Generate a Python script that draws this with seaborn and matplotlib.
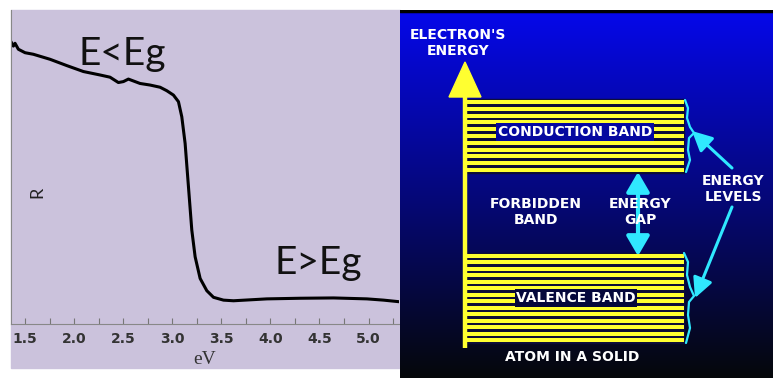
import numpy as np
import pandas as pd
import matplotlib
matplotlib.use("Agg")
import matplotlib.pyplot as plt
from matplotlib.patches import Rectangle, Polygon, FancyArrowPatch
import seaborn as sns

# ---------------- data (left panel: reflectance vs photon energy) ----------------
energy_ev = [1.357, 1.381, 1.398, 1.432, 1.50, 1.585, 1.755, 1.925, 2.095, 2.265,
             2.366, 2.451, 2.502, 2.553, 2.604, 2.672, 2.774, 2.876, 2.944, 3.012,
             3.063, 3.097, 3.131, 3.165, 3.199, 3.233, 3.284, 3.352, 3.42, 3.522,
             3.624, 3.964, 4.303, 4.643, 4.983, 5.153, 5.31]
reflectance = [0.899, 0.885, 0.894, 0.875, 0.864, 0.859, 0.843, 0.823, 0.804, 0.793,
               0.786, 0.769, 0.772, 0.780, 0.774, 0.766, 0.761, 0.754, 0.743, 0.729,
               0.708, 0.660, 0.575, 0.437, 0.299, 0.214, 0.145, 0.106, 0.085, 0.076,
               0.074, 0.080, 0.082, 0.083, 0.080, 0.076, 0.071]
xtick_values = [1.5, 2.0, 2.5, 3.0, 3.5, 4.0, 4.5, 5.0]
xtick_labels = ["1.5", "2.0", "2.5", "3.0", "3.5", "4.0", "4.5", "5.0"]
region_labels = ["E<Eg", "E>Eg"]
region_label_x = [2.49, 4.49]
region_label_y = [0.826, 0.160]

# ---------------- right panel: band diagram text ----------------
top_label = "ELECTRON'S\nENERGY"
conduction_label = "CONDUCTION BAND"
valence_label = "VALENCE BAND"
forbidden_label = "FORBIDDEN\nBAND"
gap_label = "ENERGY\nGAP"
levels_label = "ENERGY\nLEVELS"
bottom_label = "ATOM IN A SOLID"
n_conduction_levels = 11
n_valence_levels = 14

W, H = 773, 378
fig = plt.figure(figsize=(W / 100, H / 100), dpi=100)
sns.set_style("white")
plt.rcParams["font.family"] = ["DejaVu Sans"]

lav = "#cbc2dc"
fig.add_artist(Rectangle((11 / W, (H - 368) / H), 389 / W, 358 / H,
                         transform=fig.transFigure, color=lav, zorder=0))

# ---------------- left panel ----------------
ax = fig.add_axes([11 / W, (H - 324) / H, 388 / W, 314 / H])
ax.set_facecolor(lav)
df = pd.DataFrame({"eV": energy_ev, "R": reflectance})
sns.lineplot(data=df, x="eV", y="R", ax=ax, color="black", linewidth=2.2)
ax.set_xlim(1.357, 5.31)
ax.set_ylim(0, 1)
ax.set_xticks(xtick_values)
ax.set_xticklabels(xtick_labels, fontweight="bold", fontsize=10, color="#333333")
ax.set_xticks(np.arange(1.75, 5.3, 0.5), minor=True)
ax.tick_params(axis="x", which="both", direction="in", length=4, width=0.8,
               color="#777777", pad=6, bottom=True)
ax.set_yticks([])
for s in ["top", "right"]:
    ax.spines[s].set_visible(False)
for s in ["left", "bottom"]:
    ax.spines[s].set_color("#888888")
    ax.spines[s].set_linewidth(0.8)
ax.set_xlabel("eV", family="Liberation Serif", fontsize=14, color="#333333", labelpad=3)
ax.set_ylabel("")
ax.text(0.068, 0.418, "R", transform=ax.transAxes, rotation=90, family="Lato",
        fontsize=13, va="center", ha="center", color="#222222")
for lbl, lx, ly in zip(region_labels, region_label_x, region_label_y):
    ax.text(lx, ly, lbl, family="Lato", fontsize=28, ha="center", va="baseline",
            color="#111111")

# ---------------- right panel (coordinates in image pixels) ----------------
X0, Y0 = 400, 10
bx = fig.add_axes([X0 / W, 0, (W - X0) / W, (H - Y0) / H])
bx.set_xlim(X0, W)
bx.set_ylim(H, Y0)
bx.axis("off")

def panel_blue(y):
    t = (y - Y0) / (H - Y0)
    return (0.02, 0.03, 0.92 - 0.88 * t)

grad = np.array([panel_blue(y) for y in np.linspace(Y0, H, 256)])[:, None, :]
bx.imshow(grad, extent=[X0, W, H, Y0], aspect="auto", zorder=0)
bx.plot([X0, W], [Y0 + 1, Y0 + 1], color="black", lw=2.5, zorder=1)

yellow = "#ffff30"
cyan = "#30e8ff"
ax_x = 465
band_left, band_right = 465, 684

# bands
for (top, bot, n) in [(102, 170, n_conduction_levels), (256, 340, n_valence_levels)]:
    bx.add_patch(Rectangle((band_left, top - 3), band_right - band_left, bot - top + 6,
                           color="#0c0c38", zorder=2))
    for y in np.linspace(top, bot, n):
        bx.plot([band_left, band_right], [y, y], color=yellow, lw=2.9,
                solid_capstyle="butt", zorder=3)

# energy axis
bx.plot([ax_x, ax_x], [348, 95], color=yellow, lw=3.2, solid_capstyle="butt", zorder=4)
bx.add_patch(Polygon([[ax_x, 62], [ax_x - 16, 97], [ax_x + 16, 97]], closed=True,
                     color=yellow, zorder=4))

# band labels
bx.text(575, 132, conduction_label, color="white", fontweight="bold", fontsize=10,
        ha="center", va="center", zorder=5,
        bbox=dict(boxstyle="square,pad=0.12", fc=panel_blue(132), ec="none"))
bx.text(576, 298, valence_label, color="white", fontweight="bold", fontsize=10,
        ha="center", va="center", zorder=5,
        bbox=dict(boxstyle="square,pad=0.12", fc=panel_blue(298), ec="none"))

# braces
brace_c = [(685, 100), (688, 108), (687, 118), (690, 127), (694, 133), (689, 138),
           (688, 150), (690, 160), (686, 172)]
brace_v = [(684, 253), (688, 262), (687, 275), (690, 287), (694, 296), (689, 302),
           (688, 315), (690, 328), (686, 343)]
for br in (brace_c, brace_v):
    xs, ys = zip(*br)
    bx.plot(xs, ys, color=cyan, lw=1.6, zorder=5)

# arrows
bx.add_patch(FancyArrowPatch((638, 172), (638, 256),
                             arrowstyle="<|-|>,head_length=0.6,head_width=0.35",
                             mutation_scale=20, color=cyan, lw=3, zorder=5,
                             shrinkA=0, shrinkB=0))
bx.add_patch(FancyArrowPatch((732, 168), (692, 131),
                             arrowstyle="-|>,head_length=0.6,head_width=0.3",
                             mutation_scale=20, color=cyan, lw=2.2, zorder=5,
                             shrinkA=0, shrinkB=0))
bx.add_patch(FancyArrowPatch((732, 207), (695, 298),
                             arrowstyle="-|>,head_length=0.6,head_width=0.3",
                             mutation_scale=20, color=cyan, lw=2.2, zorder=5,
                             shrinkA=0, shrinkB=0))

txt = dict(color="white", fontweight="bold", fontsize=10, ha="center", va="center",
           linespacing=1.15, zorder=6)
bx.text(458, 43, top_label, **txt)
bx.text(536, 212, forbidden_label, **txt)
bx.text(640, 212, gap_label, bbox=dict(boxstyle="square,pad=0.0", fc="none", ec="none"), **txt)
bx.text(733, 189, levels_label, **txt)
bx.text(572, 357, bottom_label, **txt)

fig.savefig("out.png", dpi=100)
